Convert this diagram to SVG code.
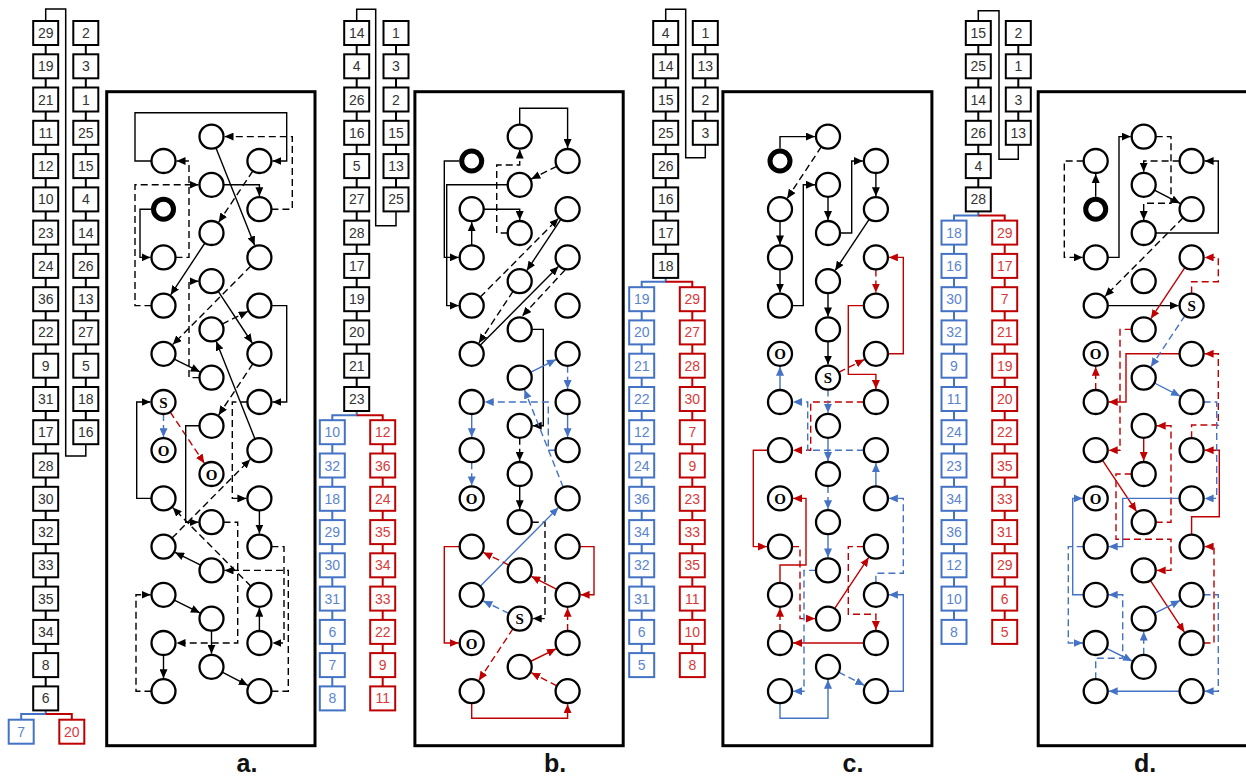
<svg xmlns="http://www.w3.org/2000/svg" xmlns:xlink="http://www.w3.org/1999/xlink" width="1246" height="776" viewBox="0 0 1246 776">
<style>
.fr{fill:none;stroke:#000;stroke-width:3}
.n{fill:#fff;stroke:#000;stroke-width:2.3}
.th{fill:#fff;stroke:#000;stroke-width:5}
.e{fill:none;stroke:#000;stroke-width:1.4;marker-end:url(#mk)}
.d{stroke-dasharray:7 4}
.r{stroke:#C00000;marker-end:url(#mr)}
.b{stroke:#4472C4;marker-end:url(#mb)}
.sl{font-family:'Liberation Serif',serif;font-weight:bold;font-size:15px;text-anchor:middle;fill:#000}
.bx{fill:#fff;stroke:#000;stroke-width:2}
.bxb{fill:#fff;stroke:#4472C4;stroke-width:2}
.bxr{fill:#fff;stroke:#C00000;stroke-width:2}
.bt{font-family:'Liberation Sans',Arial,sans-serif;font-size:14px;text-anchor:middle;fill:#333}
.tb{fill:#5B84CF}
.tr{fill:#D83A3A}
.cl{fill:none;stroke:#000;stroke-width:2}
.clb{fill:none;stroke:#4472C4;stroke-width:2}
.clr{fill:none;stroke:#C00000;stroke-width:2}
.lp{fill:none;stroke:#000;stroke-width:1.5}
.lab{font-family:'Liberation Sans',Arial,sans-serif;font-weight:bold;font-size:25px;text-anchor:middle;fill:#111}
</style>
<defs>
<marker id="mk" markerUnits="userSpaceOnUse" markerWidth="10" markerHeight="8" refX="9" refY="4" orient="auto"><path d="M0,0 L9,4 L0,8 z" fill="#000"/></marker>
<marker id="mr" markerUnits="userSpaceOnUse" markerWidth="10" markerHeight="8" refX="9" refY="4" orient="auto"><path d="M0,0 L9,4 L0,8 z" fill="#C00000"/></marker>
<marker id="mb" markerUnits="userSpaceOnUse" markerWidth="10" markerHeight="8" refX="9" refY="4" orient="auto"><path d="M0,0 L9,4 L0,8 z" fill="#4472C4"/></marker>
<rect id="bk" class="bx" x="-12.5" y="-12" width="25" height="24"/>
<rect id="bb" class="bxb" x="-12.5" y="-12" width="25" height="24"/>
<rect id="br" class="bxr" x="-12.5" y="-12" width="25" height="24"/>
</defs>
<rect width="1246" height="776" fill="#fff"/>

<g id="stack-connectors">
<path class="cl" d="M45.7,33 V698.4"/><path class="cl" d="M85.8,33 V432.2"/>
<path class="lp" d="M45.7,21 V9 H65.7 V456 H85.8 V444.2"/>
<path class="clb" d="M45.7,710 V714 H21.2 V719.7"/><path class="clr" d="M45.7,714 H71.8 V719.7"/>
<path class="cl" d="M356.7,33 V399"/><path class="cl" d="M396,33 V199.4"/>
<path class="lp" d="M356.7,21 V9.3 H375.7 V225.7 H396 V211.4"/>
<path class="clb" d="M356.7,411 V415.3 H332.3 V698.4"/><path class="clr" d="M356.7,415.3 H382.7 V698.4"/>
<path class="cl" d="M665.7,33 V265.9"/><path class="cl" d="M705.3,33 V132.8"/>
<path class="lp" d="M665.7,21 V9.3 H685.7 V157.7 H705.3 V144.8"/>
<path class="clb" d="M665.7,277.9 V281.7 H641.7 V665.1"/><path class="clr" d="M665.7,281.7 H692.3 V665.1"/>
<path class="cl" d="M978.3,33 V199.4"/><path class="cl" d="M1018.3,33 V132.8"/>
<path class="lp" d="M978.3,21 V10.7 H999 V159.3 H1018.3 V144.8"/>
<path class="clb" d="M978.3,211.4 V215.5 H954 V631.9"/><path class="clr" d="M978.3,215.5 H1004.7 V631.9"/>
</g>

<g id="stack-a">
<g id="a-k0" transform="translate(45.7,33)"><use xlink:href="#bk"/><text class="bt" y="5">29</text></g>
<g id="a-k1" transform="translate(45.7,66.3)"><use xlink:href="#bk"/><text class="bt" y="5">19</text></g>
<g id="a-k2" transform="translate(45.7,99.5)"><use xlink:href="#bk"/><text class="bt" y="5">21</text></g>
<g id="a-k3" transform="translate(45.7,132.8)"><use xlink:href="#bk"/><text class="bt" y="5">11</text></g>
<g id="a-k4" transform="translate(45.7,166.1)"><use xlink:href="#bk"/><text class="bt" y="5">12</text></g>
<g id="a-k5" transform="translate(45.7,199.4)"><use xlink:href="#bk"/><text class="bt" y="5">10</text></g>
<g id="a-k6" transform="translate(45.7,232.6)"><use xlink:href="#bk"/><text class="bt" y="5">23</text></g>
<g id="a-k7" transform="translate(45.7,265.9)"><use xlink:href="#bk"/><text class="bt" y="5">24</text></g>
<g id="a-k8" transform="translate(45.7,299.2)"><use xlink:href="#bk"/><text class="bt" y="5">36</text></g>
<g id="a-k9" transform="translate(45.7,332.4)"><use xlink:href="#bk"/><text class="bt" y="5">22</text></g>
<g id="a-k10" transform="translate(45.7,365.7)"><use xlink:href="#bk"/><text class="bt" y="5">9</text></g>
<g id="a-k11" transform="translate(45.7,399)"><use xlink:href="#bk"/><text class="bt" y="5">31</text></g>
<g id="a-k12" transform="translate(45.7,432.2)"><use xlink:href="#bk"/><text class="bt" y="5">17</text></g>
<g id="a-k13" transform="translate(45.7,465.5)"><use xlink:href="#bk"/><text class="bt" y="5">28</text></g>
<g id="a-k14" transform="translate(45.7,498.8)"><use xlink:href="#bk"/><text class="bt" y="5">30</text></g>
<g id="a-k15" transform="translate(45.7,532.1)"><use xlink:href="#bk"/><text class="bt" y="5">32</text></g>
<g id="a-k16" transform="translate(45.7,565.3)"><use xlink:href="#bk"/><text class="bt" y="5">33</text></g>
<g id="a-k17" transform="translate(45.7,598.6)"><use xlink:href="#bk"/><text class="bt" y="5">35</text></g>
<g id="a-k18" transform="translate(45.7,631.9)"><use xlink:href="#bk"/><text class="bt" y="5">34</text></g>
<g id="a-k19" transform="translate(45.7,665.1)"><use xlink:href="#bk"/><text class="bt" y="5">8</text></g>
<g id="a-k20" transform="translate(45.7,698.4)"><use xlink:href="#bk"/><text class="bt" y="5">6</text></g>
<g id="a-j0" transform="translate(85.8,33)"><use xlink:href="#bk"/><text class="bt" y="5">2</text></g>
<g id="a-j1" transform="translate(85.8,66.3)"><use xlink:href="#bk"/><text class="bt" y="5">3</text></g>
<g id="a-j2" transform="translate(85.8,99.5)"><use xlink:href="#bk"/><text class="bt" y="5">1</text></g>
<g id="a-j3" transform="translate(85.8,132.8)"><use xlink:href="#bk"/><text class="bt" y="5">25</text></g>
<g id="a-j4" transform="translate(85.8,166.1)"><use xlink:href="#bk"/><text class="bt" y="5">15</text></g>
<g id="a-j5" transform="translate(85.8,199.4)"><use xlink:href="#bk"/><text class="bt" y="5">4</text></g>
<g id="a-j6" transform="translate(85.8,232.6)"><use xlink:href="#bk"/><text class="bt" y="5">14</text></g>
<g id="a-j7" transform="translate(85.8,265.9)"><use xlink:href="#bk"/><text class="bt" y="5">26</text></g>
<g id="a-j8" transform="translate(85.8,299.2)"><use xlink:href="#bk"/><text class="bt" y="5">13</text></g>
<g id="a-j9" transform="translate(85.8,332.4)"><use xlink:href="#bk"/><text class="bt" y="5">27</text></g>
<g id="a-j10" transform="translate(85.8,365.7)"><use xlink:href="#bk"/><text class="bt" y="5">5</text></g>
<g id="a-j11" transform="translate(85.8,399)"><use xlink:href="#bk"/><text class="bt" y="5">18</text></g>
<g id="a-j12" transform="translate(85.8,432.2)"><use xlink:href="#bk"/><text class="bt" y="5">16</text></g>
<g id="a-blue0" transform="translate(21.2,731.7)"><use xlink:href="#bb"/><text class="bt tb" y="5">7</text></g>
<g id="a-red0" transform="translate(71.8,731.7)"><use xlink:href="#br"/><text class="bt tr" y="5">20</text></g>
</g>

<g id="stack-b">
<g id="b-k0" transform="translate(356.7,33)"><use xlink:href="#bk"/><text class="bt" y="5">14</text></g>
<g id="b-k1" transform="translate(356.7,66.3)"><use xlink:href="#bk"/><text class="bt" y="5">4</text></g>
<g id="b-k2" transform="translate(356.7,99.5)"><use xlink:href="#bk"/><text class="bt" y="5">26</text></g>
<g id="b-k3" transform="translate(356.7,132.8)"><use xlink:href="#bk"/><text class="bt" y="5">16</text></g>
<g id="b-k4" transform="translate(356.7,166.1)"><use xlink:href="#bk"/><text class="bt" y="5">5</text></g>
<g id="b-k5" transform="translate(356.7,199.4)"><use xlink:href="#bk"/><text class="bt" y="5">27</text></g>
<g id="b-k6" transform="translate(356.7,232.6)"><use xlink:href="#bk"/><text class="bt" y="5">28</text></g>
<g id="b-k7" transform="translate(356.7,265.9)"><use xlink:href="#bk"/><text class="bt" y="5">17</text></g>
<g id="b-k8" transform="translate(356.7,299.2)"><use xlink:href="#bk"/><text class="bt" y="5">19</text></g>
<g id="b-k9" transform="translate(356.7,332.4)"><use xlink:href="#bk"/><text class="bt" y="5">20</text></g>
<g id="b-k10" transform="translate(356.7,365.7)"><use xlink:href="#bk"/><text class="bt" y="5">21</text></g>
<g id="b-k11" transform="translate(356.7,399)"><use xlink:href="#bk"/><text class="bt" y="5">23</text></g>
<g id="b-j0" transform="translate(396,33)"><use xlink:href="#bk"/><text class="bt" y="5">1</text></g>
<g id="b-j1" transform="translate(396,66.3)"><use xlink:href="#bk"/><text class="bt" y="5">3</text></g>
<g id="b-j2" transform="translate(396,99.5)"><use xlink:href="#bk"/><text class="bt" y="5">2</text></g>
<g id="b-j3" transform="translate(396,132.8)"><use xlink:href="#bk"/><text class="bt" y="5">15</text></g>
<g id="b-j4" transform="translate(396,166.1)"><use xlink:href="#bk"/><text class="bt" y="5">13</text></g>
<g id="b-j5" transform="translate(396,199.4)"><use xlink:href="#bk"/><text class="bt" y="5">25</text></g>
<g id="b-blue0" transform="translate(332.3,432.2)"><use xlink:href="#bb"/><text class="bt tb" y="5">10</text></g>
<g id="b-blue1" transform="translate(332.3,465.5)"><use xlink:href="#bb"/><text class="bt tb" y="5">32</text></g>
<g id="b-blue2" transform="translate(332.3,498.8)"><use xlink:href="#bb"/><text class="bt tb" y="5">18</text></g>
<g id="b-blue3" transform="translate(332.3,532.1)"><use xlink:href="#bb"/><text class="bt tb" y="5">29</text></g>
<g id="b-blue4" transform="translate(332.3,565.3)"><use xlink:href="#bb"/><text class="bt tb" y="5">30</text></g>
<g id="b-blue5" transform="translate(332.3,598.6)"><use xlink:href="#bb"/><text class="bt tb" y="5">31</text></g>
<g id="b-blue6" transform="translate(332.3,631.9)"><use xlink:href="#bb"/><text class="bt tb" y="5">6</text></g>
<g id="b-blue7" transform="translate(332.3,665.1)"><use xlink:href="#bb"/><text class="bt tb" y="5">7</text></g>
<g id="b-blue8" transform="translate(332.3,698.4)"><use xlink:href="#bb"/><text class="bt tb" y="5">8</text></g>
<g id="b-red0" transform="translate(382.7,432.2)"><use xlink:href="#br"/><text class="bt tr" y="5">12</text></g>
<g id="b-red1" transform="translate(382.7,465.5)"><use xlink:href="#br"/><text class="bt tr" y="5">36</text></g>
<g id="b-red2" transform="translate(382.7,498.8)"><use xlink:href="#br"/><text class="bt tr" y="5">24</text></g>
<g id="b-red3" transform="translate(382.7,532.1)"><use xlink:href="#br"/><text class="bt tr" y="5">35</text></g>
<g id="b-red4" transform="translate(382.7,565.3)"><use xlink:href="#br"/><text class="bt tr" y="5">34</text></g>
<g id="b-red5" transform="translate(382.7,598.6)"><use xlink:href="#br"/><text class="bt tr" y="5">33</text></g>
<g id="b-red6" transform="translate(382.7,631.9)"><use xlink:href="#br"/><text class="bt tr" y="5">22</text></g>
<g id="b-red7" transform="translate(382.7,665.1)"><use xlink:href="#br"/><text class="bt tr" y="5">9</text></g>
<g id="b-red8" transform="translate(382.7,698.4)"><use xlink:href="#br"/><text class="bt tr" y="5">11</text></g>
</g>

<g id="stack-c">
<g id="c-k0" transform="translate(665.7,33)"><use xlink:href="#bk"/><text class="bt" y="5">4</text></g>
<g id="c-k1" transform="translate(665.7,66.3)"><use xlink:href="#bk"/><text class="bt" y="5">14</text></g>
<g id="c-k2" transform="translate(665.7,99.5)"><use xlink:href="#bk"/><text class="bt" y="5">15</text></g>
<g id="c-k3" transform="translate(665.7,132.8)"><use xlink:href="#bk"/><text class="bt" y="5">25</text></g>
<g id="c-k4" transform="translate(665.7,166.1)"><use xlink:href="#bk"/><text class="bt" y="5">26</text></g>
<g id="c-k5" transform="translate(665.7,199.4)"><use xlink:href="#bk"/><text class="bt" y="5">16</text></g>
<g id="c-k6" transform="translate(665.7,232.6)"><use xlink:href="#bk"/><text class="bt" y="5">17</text></g>
<g id="c-k7" transform="translate(665.7,265.9)"><use xlink:href="#bk"/><text class="bt" y="5">18</text></g>
<g id="c-j0" transform="translate(705.3,33)"><use xlink:href="#bk"/><text class="bt" y="5">1</text></g>
<g id="c-j1" transform="translate(705.3,66.3)"><use xlink:href="#bk"/><text class="bt" y="5">13</text></g>
<g id="c-j2" transform="translate(705.3,99.5)"><use xlink:href="#bk"/><text class="bt" y="5">2</text></g>
<g id="c-j3" transform="translate(705.3,132.8)"><use xlink:href="#bk"/><text class="bt" y="5">3</text></g>
<g id="c-blue0" transform="translate(641.7,299.2)"><use xlink:href="#bb"/><text class="bt tb" y="5">19</text></g>
<g id="c-blue1" transform="translate(641.7,332.4)"><use xlink:href="#bb"/><text class="bt tb" y="5">20</text></g>
<g id="c-blue2" transform="translate(641.7,365.7)"><use xlink:href="#bb"/><text class="bt tb" y="5">21</text></g>
<g id="c-blue3" transform="translate(641.7,399)"><use xlink:href="#bb"/><text class="bt tb" y="5">22</text></g>
<g id="c-blue4" transform="translate(641.7,432.2)"><use xlink:href="#bb"/><text class="bt tb" y="5">12</text></g>
<g id="c-blue5" transform="translate(641.7,465.5)"><use xlink:href="#bb"/><text class="bt tb" y="5">24</text></g>
<g id="c-blue6" transform="translate(641.7,498.8)"><use xlink:href="#bb"/><text class="bt tb" y="5">36</text></g>
<g id="c-blue7" transform="translate(641.7,532.1)"><use xlink:href="#bb"/><text class="bt tb" y="5">34</text></g>
<g id="c-blue8" transform="translate(641.7,565.3)"><use xlink:href="#bb"/><text class="bt tb" y="5">32</text></g>
<g id="c-blue9" transform="translate(641.7,598.6)"><use xlink:href="#bb"/><text class="bt tb" y="5">31</text></g>
<g id="c-blue10" transform="translate(641.7,631.9)"><use xlink:href="#bb"/><text class="bt tb" y="5">6</text></g>
<g id="c-blue11" transform="translate(641.7,665.1)"><use xlink:href="#bb"/><text class="bt tb" y="5">5</text></g>
<g id="c-red0" transform="translate(692.3,299.2)"><use xlink:href="#br"/><text class="bt tr" y="5">29</text></g>
<g id="c-red1" transform="translate(692.3,332.4)"><use xlink:href="#br"/><text class="bt tr" y="5">27</text></g>
<g id="c-red2" transform="translate(692.3,365.7)"><use xlink:href="#br"/><text class="bt tr" y="5">28</text></g>
<g id="c-red3" transform="translate(692.3,399)"><use xlink:href="#br"/><text class="bt tr" y="5">30</text></g>
<g id="c-red4" transform="translate(692.3,432.2)"><use xlink:href="#br"/><text class="bt tr" y="5">7</text></g>
<g id="c-red5" transform="translate(692.3,465.5)"><use xlink:href="#br"/><text class="bt tr" y="5">9</text></g>
<g id="c-red6" transform="translate(692.3,498.8)"><use xlink:href="#br"/><text class="bt tr" y="5">23</text></g>
<g id="c-red7" transform="translate(692.3,532.1)"><use xlink:href="#br"/><text class="bt tr" y="5">33</text></g>
<g id="c-red8" transform="translate(692.3,565.3)"><use xlink:href="#br"/><text class="bt tr" y="5">35</text></g>
<g id="c-red9" transform="translate(692.3,598.6)"><use xlink:href="#br"/><text class="bt tr" y="5">11</text></g>
<g id="c-red10" transform="translate(692.3,631.9)"><use xlink:href="#br"/><text class="bt tr" y="5">10</text></g>
<g id="c-red11" transform="translate(692.3,665.1)"><use xlink:href="#br"/><text class="bt tr" y="5">8</text></g>
</g>

<g id="stack-d">
<g id="d-k0" transform="translate(978.3,33)"><use xlink:href="#bk"/><text class="bt" y="5">15</text></g>
<g id="d-k1" transform="translate(978.3,66.3)"><use xlink:href="#bk"/><text class="bt" y="5">25</text></g>
<g id="d-k2" transform="translate(978.3,99.5)"><use xlink:href="#bk"/><text class="bt" y="5">14</text></g>
<g id="d-k3" transform="translate(978.3,132.8)"><use xlink:href="#bk"/><text class="bt" y="5">26</text></g>
<g id="d-k4" transform="translate(978.3,166.1)"><use xlink:href="#bk"/><text class="bt" y="5">4</text></g>
<g id="d-k5" transform="translate(978.3,199.4)"><use xlink:href="#bk"/><text class="bt" y="5">28</text></g>
<g id="d-j0" transform="translate(1018.3,33)"><use xlink:href="#bk"/><text class="bt" y="5">2</text></g>
<g id="d-j1" transform="translate(1018.3,66.3)"><use xlink:href="#bk"/><text class="bt" y="5">1</text></g>
<g id="d-j2" transform="translate(1018.3,99.5)"><use xlink:href="#bk"/><text class="bt" y="5">3</text></g>
<g id="d-j3" transform="translate(1018.3,132.8)"><use xlink:href="#bk"/><text class="bt" y="5">13</text></g>
<g id="d-blue0" transform="translate(954,232.6)"><use xlink:href="#bb"/><text class="bt tb" y="5">18</text></g>
<g id="d-blue1" transform="translate(954,265.9)"><use xlink:href="#bb"/><text class="bt tb" y="5">16</text></g>
<g id="d-blue2" transform="translate(954,299.2)"><use xlink:href="#bb"/><text class="bt tb" y="5">30</text></g>
<g id="d-blue3" transform="translate(954,332.4)"><use xlink:href="#bb"/><text class="bt tb" y="5">32</text></g>
<g id="d-blue4" transform="translate(954,365.7)"><use xlink:href="#bb"/><text class="bt tb" y="5">9</text></g>
<g id="d-blue5" transform="translate(954,399)"><use xlink:href="#bb"/><text class="bt tb" y="5">11</text></g>
<g id="d-blue6" transform="translate(954,432.2)"><use xlink:href="#bb"/><text class="bt tb" y="5">24</text></g>
<g id="d-blue7" transform="translate(954,465.5)"><use xlink:href="#bb"/><text class="bt tb" y="5">23</text></g>
<g id="d-blue8" transform="translate(954,498.8)"><use xlink:href="#bb"/><text class="bt tb" y="5">34</text></g>
<g id="d-blue9" transform="translate(954,532.1)"><use xlink:href="#bb"/><text class="bt tb" y="5">36</text></g>
<g id="d-blue10" transform="translate(954,565.3)"><use xlink:href="#bb"/><text class="bt tb" y="5">12</text></g>
<g id="d-blue11" transform="translate(954,598.6)"><use xlink:href="#bb"/><text class="bt tb" y="5">10</text></g>
<g id="d-blue12" transform="translate(954,631.9)"><use xlink:href="#bb"/><text class="bt tb" y="5">8</text></g>
<g id="d-red0" transform="translate(1004.7,232.6)"><use xlink:href="#br"/><text class="bt tr" y="5">29</text></g>
<g id="d-red1" transform="translate(1004.7,265.9)"><use xlink:href="#br"/><text class="bt tr" y="5">17</text></g>
<g id="d-red2" transform="translate(1004.7,299.2)"><use xlink:href="#br"/><text class="bt tr" y="5">7</text></g>
<g id="d-red3" transform="translate(1004.7,332.4)"><use xlink:href="#br"/><text class="bt tr" y="5">21</text></g>
<g id="d-red4" transform="translate(1004.7,365.7)"><use xlink:href="#br"/><text class="bt tr" y="5">19</text></g>
<g id="d-red5" transform="translate(1004.7,399)"><use xlink:href="#br"/><text class="bt tr" y="5">20</text></g>
<g id="d-red6" transform="translate(1004.7,432.2)"><use xlink:href="#br"/><text class="bt tr" y="5">22</text></g>
<g id="d-red7" transform="translate(1004.7,465.5)"><use xlink:href="#br"/><text class="bt tr" y="5">35</text></g>
<g id="d-red8" transform="translate(1004.7,498.8)"><use xlink:href="#br"/><text class="bt tr" y="5">33</text></g>
<g id="d-red9" transform="translate(1004.7,532.1)"><use xlink:href="#br"/><text class="bt tr" y="5">31</text></g>
<g id="d-red10" transform="translate(1004.7,565.3)"><use xlink:href="#br"/><text class="bt tr" y="5">29</text></g>
<g id="d-red11" transform="translate(1004.7,598.6)"><use xlink:href="#br"/><text class="bt tr" y="5">6</text></g>
<g id="d-red12" transform="translate(1004.7,631.9)"><use xlink:href="#br"/><text class="bt tr" y="5">5</text></g>
</g>

<g id="panel-a">
<rect class="fr" x="106.7" y="91.7" width="208.3" height="654"/>
<g id="a-connectors">
<path class="e" d="M151.5,161 H135 V112.7 H286.7 V161 H272.4"/>
<path class="e d" d="M271.4,209.2 H292.3 V136.6 H224.5"/>
<path class="e" d="M215.9,147.8 L254.6,245.3"/>
<path class="e d" d="M175.5,257.4 H189 V161 H176.5"/>
<path class="e d" d="M151.5,305.6 H135 V184.8 H198.5"/>
<path class="e" d="M151,209.2 H140 V257.4 H150.5"/>
<path class="e" d="M223.5,184.8 H259.4 V196.2"/>
<path class="e d" d="M252.8,171 L218.7,222.2"/>
<path class="e" d="M204.9,243 L170.7,294.8"/>
<path class="e d" d="M250.9,265.9 L172.7,344.6"/>
<path class="e d" d="M199.5,377.6 H189 V281.2 H198.5"/>
<path class="e" d="M218.1,291.2 L252.2,343"/>
<path class="e" d="M271.4,305.6 H286.7 V402 H272.4"/>
<path class="e" d="M174.3,359.1 L199.9,371.8"/>
<path class="e" d="M255,439 L216.3,341.5"/>
<path class="e d" d="M222.2,324.1 L247.8,311.4"/>
<path class="e d" d="M252.8,363.8 L218.7,415"/>
<path class="e" d="M151.5,498.4 H136.7 V402 H150.5"/>
<path class="e b d" d="M163.5,414 V437.2"/>
<path class="e r d" d="M170.2,412 L204.3,463.2"/>
<path class="e d" d="M247.4,402 H232.3 V498.4 H246.4"/>
<path class="e" d="M199.5,425.8 H185.7 V522.2 H198.5"/>
<path class="e d" d="M250.9,586.3 L172.7,507.6"/>
<path class="e d" d="M172,538.1 L250.2,459.4"/>
<path class="e" d="M259.4,510.4 V533.6"/>
<path class="e d" d="M223.5,522.2 H237.7 V643 H176.5"/>
<path class="e" d="M200.7,565.1 L175.1,552.4"/>
<path class="e d" d="M271.4,546.6 H284 V643 H272.4"/>
<path class="e d" d="M271.4,691.2 H288.3 V570.4 H224.5"/>
<path class="e" d="M259.4,631 V607.8"/>
<path class="e d" d="M151.5,691.2 H136 V594.8 H150.5"/>
<path class="e" d="M174.3,600.1 L199.9,612.8"/>
<path class="e" d="M211.5,630.6 V653.8"/>
<path class="e" d="M163.5,655 V678.2"/>
<path class="e" d="M222.2,672.2 L247.8,685.3"/>
</g>
<g id="a-L0"><circle class="n" cx="163.5" cy="161" r="12"/></g>
<g id="a-L1"><circle class="th" cx="163.5" cy="209.2" r="10"/></g>
<g id="a-L2"><circle class="n" cx="163.5" cy="257.4" r="12"/></g>
<g id="a-L3"><circle class="n" cx="163.5" cy="305.6" r="12"/></g>
<g id="a-L4"><circle class="n" cx="163.5" cy="353.8" r="12"/></g>
<g id="a-L5"><circle class="n" cx="163.5" cy="402" r="12"/><text class="sl" x="163.5" y="407.5">S</text></g>
<g id="a-L6"><circle class="n" cx="163.5" cy="450.2" r="12"/><text class="sl" x="163.5" y="455.7">O</text></g>
<g id="a-L7"><circle class="n" cx="163.5" cy="498.4" r="12"/></g>
<g id="a-L8"><circle class="n" cx="163.5" cy="546.6" r="12"/></g>
<g id="a-L9"><circle class="n" cx="163.5" cy="594.8" r="12"/></g>
<g id="a-L10"><circle class="n" cx="163.5" cy="643" r="12"/></g>
<g id="a-L11"><circle class="n" cx="163.5" cy="691.2" r="12"/></g>
<g id="a-M0"><circle class="n" cx="211.5" cy="136.6" r="12"/></g>
<g id="a-M1"><circle class="n" cx="211.5" cy="184.8" r="12"/></g>
<g id="a-M2"><circle class="n" cx="211.5" cy="233" r="12"/></g>
<g id="a-M3"><circle class="n" cx="211.5" cy="281.2" r="12"/></g>
<g id="a-M4"><circle class="n" cx="211.5" cy="329.4" r="12"/></g>
<g id="a-M5"><circle class="n" cx="211.5" cy="377.6" r="12"/></g>
<g id="a-M6"><circle class="n" cx="211.5" cy="425.8" r="12"/></g>
<g id="a-M7"><circle class="n" cx="211.5" cy="474" r="12"/><text class="sl" x="211.5" y="479.5">O</text></g>
<g id="a-M8"><circle class="n" cx="211.5" cy="522.2" r="12"/></g>
<g id="a-M9"><circle class="n" cx="211.5" cy="570.4" r="12"/></g>
<g id="a-M10"><circle class="n" cx="211.5" cy="618.6" r="12"/></g>
<g id="a-M11"><circle class="n" cx="211.5" cy="666.8" r="12"/></g>
<g id="a-R0"><circle class="n" cx="259.4" cy="161" r="12"/></g>
<g id="a-R1"><circle class="n" cx="259.4" cy="209.2" r="12"/></g>
<g id="a-R2"><circle class="n" cx="259.4" cy="257.4" r="12"/></g>
<g id="a-R3"><circle class="n" cx="259.4" cy="305.6" r="12"/></g>
<g id="a-R4"><circle class="n" cx="259.4" cy="353.8" r="12"/></g>
<g id="a-R5"><circle class="n" cx="259.4" cy="402" r="12"/></g>
<g id="a-R6"><circle class="n" cx="259.4" cy="450.2" r="12"/></g>
<g id="a-R7"><circle class="n" cx="259.4" cy="498.4" r="12"/></g>
<g id="a-R8"><circle class="n" cx="259.4" cy="546.6" r="12"/></g>
<g id="a-R9"><circle class="n" cx="259.4" cy="594.8" r="12"/></g>
<g id="a-R10"><circle class="n" cx="259.4" cy="643" r="12"/></g>
<g id="a-R11"><circle class="n" cx="259.4" cy="691.2" r="12"/></g>
<text class="lab" x="247" y="772">a.</text>
</g>

<g id="panel-b" transform="translate(308.2,0)">
<rect class="fr" x="106.7" y="91.7" width="208.3" height="654"/>
<g id="b-connectors">
<path class="e" d="M211.5,124.6 V108.3 H259.4 V148"/>
<path class="e d" d="M248.6,166.3 L223.1,179"/>
<path class="e" d="M151,161 H136.1 V257.4 H150.5"/>
<path class="e" d="M199.5,184.8 H138.5 V305.6 H150.5"/>
<path class="e d" d="M199.5,233 H188.5 V165 H211.5 V149.6"/>
<path class="e" d="M175.5,209.2 H211.5 V220"/>
<path class="e" d="M163.5,245.4 V222.2"/>
<path class="e d" d="M172,297.1 L250.2,218.4"/>
<path class="e" d="M252.8,219.2 L218.7,270.4"/>
<path class="e d" d="M204.9,291.2 L170.7,343"/>
<path class="e" d="M172,345.3 L250.2,266.6"/>
<path class="e d" d="M256.8,270 L214.1,316"/>
<path class="e" d="M223.5,329.4 H235.1 V425.8 H224.5"/>
<path class="e d" d="M211.5,437.8 V461"/>
<path class="e" d="M211.5,486 V509.2"/>
<path class="e d" d="M223.5,522.2 H236.8 V618.6 H224.5"/>
<path class="e b d" d="M200.7,613.3 L175.1,601"/>
<path class="e b" d="M172,586.3 L250.2,507.6"/>
<path class="e b d" d="M255,487.2 L216.3,389.7"/>
<path class="e b" d="M222.2,372.3 L247.8,359.6"/>
<path class="e b d" d="M259.4,365.8 V389"/>
<path class="e b" d="M259.4,414 V437.2"/>
<path class="e b d" d="M247.4,450.2 H240.1 V402 H176.5"/>
<path class="e b" d="M163.5,414 V437.2"/>
<path class="e b d" d="M163.5,462.2 V485.4"/>
<path class="e r d" d="M204.9,628.6 L170.7,680.4"/>
<path class="e r" d="M163.5,703.2 V718.3 H259.4 V704.2"/>
<path class="e r d" d="M248.7,685.8 L223.1,672.7"/>
<path class="e r" d="M222.2,661.5 L247.8,648.8"/>
<path class="e r d" d="M259.4,631 V607.8"/>
<path class="e r" d="M248.7,589.4 L223.1,576.3"/>
<path class="e r d" d="M200.7,565.1 L175.1,552.4"/>
<path class="e r" d="M151.5,546.6 H136.1 V643 H150.5"/>
<path class="e r" d="M271.4,546.6 H285.8 V594.8 H272.4"/>
</g>
<g id="b-L0"><circle class="th" cx="163.5" cy="161" r="10"/></g>
<g id="b-L1"><circle class="n" cx="163.5" cy="209.2" r="12"/></g>
<g id="b-L2"><circle class="n" cx="163.5" cy="257.4" r="12"/></g>
<g id="b-L3"><circle class="n" cx="163.5" cy="305.6" r="12"/></g>
<g id="b-L4"><circle class="n" cx="163.5" cy="353.8" r="12"/></g>
<g id="b-L5"><circle class="n" cx="163.5" cy="402" r="12"/></g>
<g id="b-L6"><circle class="n" cx="163.5" cy="450.2" r="12"/></g>
<g id="b-L7"><circle class="n" cx="163.5" cy="498.4" r="12"/><text class="sl" x="163.5" y="503.9">O</text></g>
<g id="b-L8"><circle class="n" cx="163.5" cy="546.6" r="12"/></g>
<g id="b-L9"><circle class="n" cx="163.5" cy="594.8" r="12"/></g>
<g id="b-L10"><circle class="n" cx="163.5" cy="643" r="12"/><text class="sl" x="163.5" y="648.5">O</text></g>
<g id="b-L11"><circle class="n" cx="163.5" cy="691.2" r="12"/></g>
<g id="b-M0"><circle class="n" cx="211.5" cy="136.6" r="12"/></g>
<g id="b-M1"><circle class="n" cx="211.5" cy="184.8" r="12"/></g>
<g id="b-M2"><circle class="n" cx="211.5" cy="233" r="12"/></g>
<g id="b-M3"><circle class="n" cx="211.5" cy="281.2" r="12"/></g>
<g id="b-M4"><circle class="n" cx="211.5" cy="329.4" r="12"/></g>
<g id="b-M5"><circle class="n" cx="211.5" cy="377.6" r="12"/></g>
<g id="b-M6"><circle class="n" cx="211.5" cy="425.8" r="12"/></g>
<g id="b-M7"><circle class="n" cx="211.5" cy="474" r="12"/></g>
<g id="b-M8"><circle class="n" cx="211.5" cy="522.2" r="12"/></g>
<g id="b-M9"><circle class="n" cx="211.5" cy="570.4" r="12"/></g>
<g id="b-M10"><circle class="n" cx="211.5" cy="618.6" r="12"/><text class="sl" x="211.5" y="624.1">S</text></g>
<g id="b-M11"><circle class="n" cx="211.5" cy="666.8" r="12"/></g>
<g id="b-R0"><circle class="n" cx="259.4" cy="161" r="12"/></g>
<g id="b-R1"><circle class="n" cx="259.4" cy="209.2" r="12"/></g>
<g id="b-R2"><circle class="n" cx="259.4" cy="257.4" r="12"/></g>
<g id="b-R3"><circle class="n" cx="259.4" cy="305.6" r="12"/></g>
<g id="b-R4"><circle class="n" cx="259.4" cy="353.8" r="12"/></g>
<g id="b-R5"><circle class="n" cx="259.4" cy="402" r="12"/></g>
<g id="b-R6"><circle class="n" cx="259.4" cy="450.2" r="12"/></g>
<g id="b-R7"><circle class="n" cx="259.4" cy="498.4" r="12"/></g>
<g id="b-R8"><circle class="n" cx="259.4" cy="546.6" r="12"/></g>
<g id="b-R9"><circle class="n" cx="259.4" cy="594.8" r="12"/></g>
<g id="b-R10"><circle class="n" cx="259.4" cy="643" r="12"/></g>
<g id="b-R11"><circle class="n" cx="259.4" cy="691.2" r="12"/></g>
<text class="lab" x="246.8" y="772">b.</text>
</g>

<g id="panel-c" transform="translate(616.5,0)">
<rect class="fr" x="106.4" y="91.7" width="209" height="654"/>
<g id="c-connectors">
<path class="e" d="M163.5,148.5 V136.6 H198.5"/>
<path class="e d" d="M204.9,146.6 L170.7,198.4"/>
<path class="e" d="M163.5,221.2 V244.4"/>
<path class="e" d="M163.5,269.4 V292.6"/>
<path class="e" d="M175.5,305.6 H186.8 V184.8 H198.5"/>
<path class="e" d="M211.5,196.8 V220"/>
<path class="e" d="M223.5,233 H235.2 V161 H246.4"/>
<path class="e" d="M259.4,173 V196.2"/>
<path class="e" d="M252.8,219.2 L218.7,270.4"/>
<path class="e" d="M211.5,293.2 V316.4"/>
<path class="e" d="M211.5,341.4 V364.6"/>
<path class="e r d" d="M222.2,372.3 L247.8,359.6"/>
<path class="e r" d="M271.4,353.8 H286.8 V257.4 H272.4"/>
<path class="e r d" d="M259.4,269.4 V292.6"/>
<path class="e r" d="M247.4,305.6 H231.8 V374.4 H259.4 V389"/>
<path class="e r d" d="M247.4,402 H194.2 V450.2 H176.5"/>
<path class="e r" d="M151.5,450.2 H136.8 V546.6 H150.5"/>
<path class="e r d" d="M175.5,546.6 H183.5 V618.6 H198.5"/>
<path class="e r" d="M218.1,608.6 L252.2,557.4"/>
<path class="e r d" d="M247.4,546.6 H231.8 V614.3 H259.4 V630"/>
<path class="e r" d="M247.4,643 H176.5"/>
<path class="e r d" d="M163.5,631 V607.8"/>
<path class="e r" d="M163.5,582.8 V565 H189.5 V498.4 H176.5"/>
<path class="e b d" d="M211.5,389.6 V412.8"/>
<path class="e b" d="M211.5,437.8 V461"/>
<path class="e b d" d="M211.5,486 V509.2"/>
<path class="e b" d="M211.5,534.2 V557.4"/>
<path class="e b d" d="M199.5,570.4 H187.5 V691.2 H176.5"/>
<path class="e b" d="M163.5,703.2 V718.3 H211.5 V679.8"/>
<path class="e b d" d="M222.2,672.2 L247.8,685.3"/>
<path class="e b" d="M271.4,691.2 H286.8 V594.8 H272.4"/>
<path class="e b d" d="M259.4,582.8 V573.3 H286.8 V498.4 H272.4"/>
<path class="e b" d="M259.4,486.4 V463.2"/>
<path class="e b d" d="M247.4,450.2 H191.2 V402 H176.5"/>
<path class="e b" d="M163.5,390 V366.8"/>
</g>
<g id="c-L0"><circle class="th" cx="163.5" cy="161" r="10"/></g>
<g id="c-L1"><circle class="n" cx="163.5" cy="209.2" r="12"/></g>
<g id="c-L2"><circle class="n" cx="163.5" cy="257.4" r="12"/></g>
<g id="c-L3"><circle class="n" cx="163.5" cy="305.6" r="12"/></g>
<g id="c-L4"><circle class="n" cx="163.5" cy="353.8" r="12"/><text class="sl" x="163.5" y="359.3">O</text></g>
<g id="c-L5"><circle class="n" cx="163.5" cy="402" r="12"/></g>
<g id="c-L6"><circle class="n" cx="163.5" cy="450.2" r="12"/></g>
<g id="c-L7"><circle class="n" cx="163.5" cy="498.4" r="12"/><text class="sl" x="163.5" y="503.9">O</text></g>
<g id="c-L8"><circle class="n" cx="163.5" cy="546.6" r="12"/></g>
<g id="c-L9"><circle class="n" cx="163.5" cy="594.8" r="12"/></g>
<g id="c-L10"><circle class="n" cx="163.5" cy="643" r="12"/></g>
<g id="c-L11"><circle class="n" cx="163.5" cy="691.2" r="12"/></g>
<g id="c-M0"><circle class="n" cx="211.5" cy="136.6" r="12"/></g>
<g id="c-M1"><circle class="n" cx="211.5" cy="184.8" r="12"/></g>
<g id="c-M2"><circle class="n" cx="211.5" cy="233" r="12"/></g>
<g id="c-M3"><circle class="n" cx="211.5" cy="281.2" r="12"/></g>
<g id="c-M4"><circle class="n" cx="211.5" cy="329.4" r="12"/></g>
<g id="c-M5"><circle class="n" cx="211.5" cy="377.6" r="12"/><text class="sl" x="211.5" y="383.1">S</text></g>
<g id="c-M6"><circle class="n" cx="211.5" cy="425.8" r="12"/></g>
<g id="c-M7"><circle class="n" cx="211.5" cy="474" r="12"/></g>
<g id="c-M8"><circle class="n" cx="211.5" cy="522.2" r="12"/></g>
<g id="c-M9"><circle class="n" cx="211.5" cy="570.4" r="12"/></g>
<g id="c-M10"><circle class="n" cx="211.5" cy="618.6" r="12"/></g>
<g id="c-M11"><circle class="n" cx="211.5" cy="666.8" r="12"/></g>
<g id="c-R0"><circle class="n" cx="259.4" cy="161" r="12"/></g>
<g id="c-R1"><circle class="n" cx="259.4" cy="209.2" r="12"/></g>
<g id="c-R2"><circle class="n" cx="259.4" cy="257.4" r="12"/></g>
<g id="c-R3"><circle class="n" cx="259.4" cy="305.6" r="12"/></g>
<g id="c-R4"><circle class="n" cx="259.4" cy="353.8" r="12"/></g>
<g id="c-R5"><circle class="n" cx="259.4" cy="402" r="12"/></g>
<g id="c-R6"><circle class="n" cx="259.4" cy="450.2" r="12"/></g>
<g id="c-R7"><circle class="n" cx="259.4" cy="498.4" r="12"/></g>
<g id="c-R8"><circle class="n" cx="259.4" cy="546.6" r="12"/></g>
<g id="c-R9"><circle class="n" cx="259.4" cy="594.8" r="12"/></g>
<g id="c-R10"><circle class="n" cx="259.4" cy="643" r="12"/></g>
<g id="c-R11"><circle class="n" cx="259.4" cy="691.2" r="12"/></g>
<text class="lab" x="236.5" y="772">c.</text>
</g>

<g id="panel-d" transform="translate(932.2,0)">
<rect class="fr" x="106" y="91.7" width="212" height="654"/>
<g id="d-connectors">
<path class="e" d="M163.5,196.7 V174"/>
<path class="e d" d="M151.5,161 H132.1 V257.4 H150.5"/>
<path class="e" d="M175.5,257.4 H186.8 V136.6 H198.5"/>
<path class="e d" d="M223.5,136.6 H238.8 V203.3 H211.5 V220"/>
<path class="e" d="M223.5,233 H286.1 V161 H272.4"/>
<path class="e d" d="M247.4,161 H211.5 V171.8"/>
<path class="e" d="M222.2,190.2 L247.8,203.3"/>
<path class="e d" d="M250.9,217.7 L172.7,296.4"/>
<path class="e" d="M175.5,305.6 H246.4"/>
<path class="e r d" d="M259.4,293.6 V281.7 H286.1 V257.4 H272.4"/>
<path class="e r" d="M252.8,267.4 L218.7,318.6"/>
<path class="e r d" d="M199.5,329.4 H187.8 V450.2 H176.5"/>
<path class="e r" d="M247.4,353.8 H193.8 V402 H176.5"/>
<path class="e r d" d="M163.5,390 V366.8"/>
<path class="e r d" d="M259.4,438.2 V425 H286.1 V353.8 H272.4"/>
<path class="e r" d="M170.2,460.2 L204.3,511.4"/>
<path class="e r d" d="M223.5,522.2 H238.8 V425.8 H224.5"/>
<path class="e r" d="M211.5,437.8 V461"/>
<path class="e r d" d="M199.5,474 H183.8 V539.3 H238.8 V570.4 H224.5"/>
<path class="e r" d="M218.1,580.4 L252.2,632.2"/>
<path class="e r d" d="M271.4,643 H281.8 V546.6 H272.4"/>
<path class="e r" d="M259.4,534.6 V516.7 H287.1 V450.2 H272.4"/>
<path class="e b d" d="M252.8,315.6 L218.7,366.8"/>
<path class="e b" d="M222.2,383 L247.8,396.1"/>
<path class="e b d" d="M271.4,402 H284.5 V498.4 H272.4"/>
<path class="e b" d="M247.4,498.4 H190.5 V546.6 H176.5"/>
<path class="e b d" d="M151.5,546.6 H136.1 V643 H150.5"/>
<path class="e b" d="M174.3,648.3 L199.9,661"/>
<path class="e b d" d="M211.5,654.8 V631.6"/>
<path class="e b" d="M222.2,613.3 L247.8,600.6"/>
<path class="e b d" d="M271.4,594.8 H286.1 V691.2 H272.4"/>
<path class="e b" d="M247.4,691.2 H176.5"/>
<path class="e b d" d="M163.5,679.2 V658.3 H190.5 V594.8 H176.5"/>
<path class="e b" d="M151.5,594.8 H140.5 V498.4 H150.5"/>
</g>
<g id="d-L0"><circle class="n" cx="163.5" cy="161" r="12"/></g>
<g id="d-L1"><circle class="th" cx="163.5" cy="209.2" r="10"/></g>
<g id="d-L2"><circle class="n" cx="163.5" cy="257.4" r="12"/></g>
<g id="d-L3"><circle class="n" cx="163.5" cy="305.6" r="12"/></g>
<g id="d-L4"><circle class="n" cx="163.5" cy="353.8" r="12"/><text class="sl" x="163.5" y="359.3">O</text></g>
<g id="d-L5"><circle class="n" cx="163.5" cy="402" r="12"/></g>
<g id="d-L6"><circle class="n" cx="163.5" cy="450.2" r="12"/></g>
<g id="d-L7"><circle class="n" cx="163.5" cy="498.4" r="12"/><text class="sl" x="163.5" y="503.9">O</text></g>
<g id="d-L8"><circle class="n" cx="163.5" cy="546.6" r="12"/></g>
<g id="d-L9"><circle class="n" cx="163.5" cy="594.8" r="12"/></g>
<g id="d-L10"><circle class="n" cx="163.5" cy="643" r="12"/></g>
<g id="d-L11"><circle class="n" cx="163.5" cy="691.2" r="12"/></g>
<g id="d-M0"><circle class="n" cx="211.5" cy="136.6" r="12"/></g>
<g id="d-M1"><circle class="n" cx="211.5" cy="184.8" r="12"/></g>
<g id="d-M2"><circle class="n" cx="211.5" cy="233" r="12"/></g>
<g id="d-M3"><circle class="n" cx="211.5" cy="281.2" r="12"/></g>
<g id="d-M4"><circle class="n" cx="211.5" cy="329.4" r="12"/></g>
<g id="d-M5"><circle class="n" cx="211.5" cy="377.6" r="12"/></g>
<g id="d-M6"><circle class="n" cx="211.5" cy="425.8" r="12"/></g>
<g id="d-M7"><circle class="n" cx="211.5" cy="474" r="12"/></g>
<g id="d-M8"><circle class="n" cx="211.5" cy="522.2" r="12"/></g>
<g id="d-M9"><circle class="n" cx="211.5" cy="570.4" r="12"/></g>
<g id="d-M10"><circle class="n" cx="211.5" cy="618.6" r="12"/></g>
<g id="d-M11"><circle class="n" cx="211.5" cy="666.8" r="12"/></g>
<g id="d-R0"><circle class="n" cx="259.4" cy="161" r="12"/></g>
<g id="d-R1"><circle class="n" cx="259.4" cy="209.2" r="12"/></g>
<g id="d-R2"><circle class="n" cx="259.4" cy="257.4" r="12"/></g>
<g id="d-R3"><circle class="n" cx="259.4" cy="305.6" r="12"/><text class="sl" x="259.4" y="311.1">S</text></g>
<g id="d-R4"><circle class="n" cx="259.4" cy="353.8" r="12"/></g>
<g id="d-R5"><circle class="n" cx="259.4" cy="402" r="12"/></g>
<g id="d-R6"><circle class="n" cx="259.4" cy="450.2" r="12"/></g>
<g id="d-R7"><circle class="n" cx="259.4" cy="498.4" r="12"/></g>
<g id="d-R8"><circle class="n" cx="259.4" cy="546.6" r="12"/></g>
<g id="d-R9"><circle class="n" cx="259.4" cy="594.8" r="12"/></g>
<g id="d-R10"><circle class="n" cx="259.4" cy="643" r="12"/></g>
<g id="d-R11"><circle class="n" cx="259.4" cy="691.2" r="12"/></g>
<text class="lab" x="212.8" y="772">d.</text>
</g>
</svg>
